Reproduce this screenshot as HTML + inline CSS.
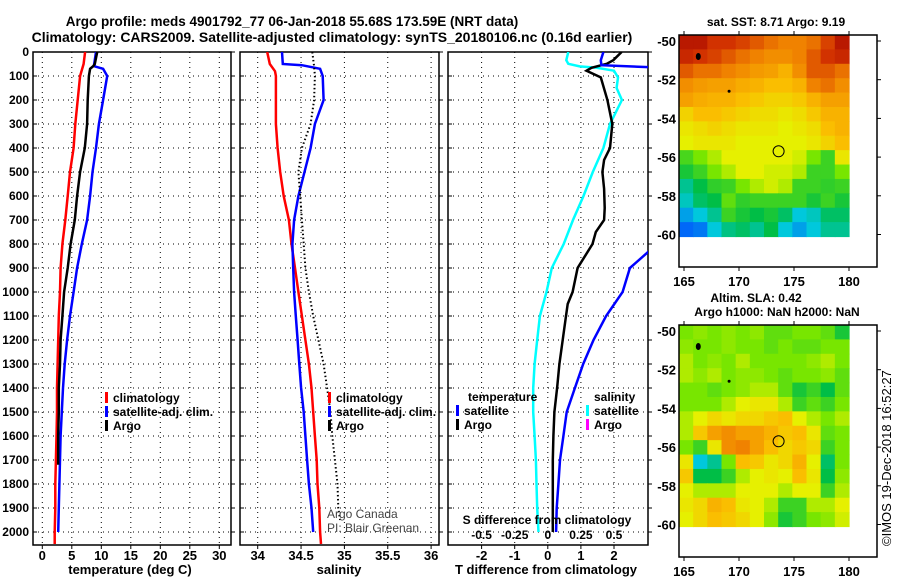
<!DOCTYPE html>
<html><head><meta charset="utf-8"><style>
html,body{margin:0;padding:0;background:#fff;}
svg{display:block;font-family:"Liberation Sans",sans-serif;}
</style></head><body>
<svg id="c" width="900" height="580" viewBox="0 0 900 580">
<text x="292" y="26" text-anchor="middle" font-size="13.5" font-weight="bold">Argo profile: meds 4901792_77 06-Jan-2018 55.68S 173.59E (NRT data)</text>
<text x="332" y="42" text-anchor="middle" font-size="14" font-weight="bold">Climatology: CARS2009. Satellite-adjusted climatology: synTS_20180106.nc (0.16d earlier)</text>
</svg>
<script>
// ---------- data ----------
const depthGrid = [0,50,100,200,300,400,500,600,700,800,900,1000,1100,1200,1300,1400,1500,1600,1700,1800,1900,2000,2050];
const tempClim = [7.25,7.0,6.4,6.0,5.6,5.3,4.7,4.3,3.9,3.4,3.1,3.0,2.8,2.7,2.6,2.5,2.5,2.4,2.3,2.2,2.2,2.1,2.1];
const tempArgoDepth = [0,50,60,70,100,200,300,400,500,600,700,800,900,1000,1100,1200,1300,1400,1500,1600,1700,1720];
const tempArgo = [9.3,8.9,8.6,8.1,7.9,7.7,7.6,7.2,6.4,5.9,5.5,4.8,4.3,3.7,3.4,3.1,3.0,2.8,2.8,2.7,2.7,2.7];
const tempSatDepth = [0,50,60,70,100,200,300,400,500,600,700,800,900,1000,1100,1200,1300,1400,1500,1600,1700,1800,1900,2000];
const tempSat = [9.1,8.8,8.9,10.3,11.0,10.3,9.6,9.1,8.5,8.1,7.6,6.7,5.9,5.3,4.7,4.2,3.8,3.5,3.3,3.1,3.0,2.9,2.8,2.7];
const salClimDepth = [0,50,80,100,200,300,400,500,600,700,800,900,1000,1100,1200,1300,1400,1500,1600,1700,1800,1900,2000,2050];
const salClim = [34.11,34.14,34.2,34.21,34.21,34.21,34.23,34.26,34.3,34.36,34.39,34.43,34.47,34.51,34.55,34.59,34.62,34.64,34.66,34.68,34.69,34.71,34.72,34.73];
const salSatDepth = [0,50,55,70,100,200,300,400,500,600,700,800,900,1000,1100,1200,1300,1400,1500,1600,1700,1800,1900,2000];
const salSat = [34.28,34.29,34.51,34.72,34.75,34.76,34.66,34.61,34.54,34.47,34.42,34.4,34.41,34.42,34.44,34.46,34.48,34.5,34.53,34.55,34.57,34.59,34.62,34.64];
const salArgoDepth = [0,60,100,200,300,400,500,600,700,800,900,1000,1100,1200,1300,1400,1500,1600,1700,1800,1900,1950];
const salArgo = [34.63,34.65,34.66,34.65,34.61,34.51,34.47,34.49,34.51,34.53,34.55,34.59,34.64,34.7,34.76,34.8,34.84,34.86,34.89,34.92,34.93,34.95];
const dTArgoDepth = [0,34,49,66,78,106,200,300,400,450,500,570,650,700,750,800,900,1000,1050,1100,1200,1300,1400,1500,1600,1700,1800,1900,2000];
const dTArgo = [2.23,1.98,1.78,1.32,1.17,1.6,1.8,1.95,1.88,1.7,1.65,1.7,1.72,1.7,1.45,1.35,0.9,0.75,0.6,0.55,0.45,0.35,0.28,0.2,0.17,0.15,0.15,0.15,0.15];
const dTSatDepth = [0,34,55,70,100,300,500,700,832,900,1000,1100,1200,1300,1400,1500,1600,1700,1800,1900,2000];
const dTSat = [1.68,1.6,1.62,4.2,4.6,4.0,3.8,3.7,3.04,2.48,2.26,1.76,1.38,1.07,0.82,0.57,0.47,0.37,0.32,0.27,0.25];
const dSSatDepth = [0,34,49,60,66,78,106,150,200,300,400,500,600,700,800,900,1000,1100,1200,1300,1400,1500,1600,1700,1800,1900,2000];
const dSSat = [0.155,0.14,0.155,0.24,0.37,0.5,0.53,0.52,0.56,0.47,0.42,0.34,0.27,0.19,0.12,0.03,-0.01,-0.06,-0.08,-0.1,-0.11,-0.11,-0.1,-0.09,-0.085,-0.08,-0.07];
const depthTicks = [0,100,200,300,400,500,600,700,800,900,1000,1100,1200,1300,1400,1500,1600,1700,1800,1900,2000];
const tempTicks = [0,5,10,15,20,25,30];
const salTicks = [34,34.5,35,35.5,36];
const dTTicks = [-2,-1,0,1,2];
const dSTicks = [-0.5,-0.25,0,0.25,0.5];
const sstGrid = [
[0.95,0.95,0.9,0.9,0.88,0.85,0.82,0.8,0.8,0.82,0.88,0.95],
[0.92,0.9,0.88,0.85,0.82,0.8,0.78,0.78,0.8,0.85,0.9,0.92],
[0.85,0.82,0.82,0.8,0.78,0.76,0.75,0.72,0.78,0.85,0.85,0.82],
[0.78,0.76,0.75,0.75,0.73,0.72,0.7,0.7,0.72,0.8,0.82,0.78],
[0.75,0.73,0.72,0.72,0.7,0.68,0.66,0.66,0.68,0.72,0.75,0.75],
[0.66,0.7,0.7,0.68,0.66,0.64,0.64,0.62,0.64,0.68,0.72,0.72],
[0.62,0.64,0.66,0.64,0.62,0.62,0.62,0.6,0.62,0.64,0.7,0.72],
[0.6,0.62,0.62,0.62,0.6,0.6,0.6,0.6,0.6,0.62,0.66,0.7],
[0.46,0.5,0.55,0.6,0.6,0.6,0.6,0.6,0.58,0.5,0.45,0.62],
[0.42,0.45,0.5,0.55,0.6,0.6,0.58,0.58,0.55,0.45,0.45,0.5],
[0.35,0.4,0.44,0.45,0.5,0.55,0.58,0.55,0.45,0.45,0.44,0.45],
[0.32,0.38,0.4,0.48,0.44,0.45,0.45,0.45,0.45,0.42,0.45,0.42],
[0.25,0.3,0.35,0.45,0.42,0.4,0.42,0.38,0.3,0.32,0.38,0.38],
[0.18,0.2,0.3,0.36,0.38,0.35,0.4,0.3,0.25,0.3,0.35,0.35]];
const slaGrid = [
[0.5,0.52,0.5,0.52,0.5,0.52,0.48,0.48,0.5,0.5,0.48,0.42],
[0.52,0.5,0.5,0.52,0.5,0.5,0.48,0.5,0.48,0.48,0.5,0.5],
[0.55,0.5,0.52,0.5,0.55,0.5,0.5,0.5,0.5,0.52,0.55,0.5],
[0.55,0.52,0.55,0.5,0.52,0.52,0.5,0.48,0.5,0.5,0.52,0.48],
[0.5,0.5,0.48,0.5,0.52,0.55,0.55,0.48,0.42,0.45,0.4,0.48],
[0.5,0.5,0.5,0.55,0.6,0.62,0.62,0.55,0.45,0.48,0.45,0.5],
[0.55,0.6,0.65,0.62,0.65,0.65,0.68,0.7,0.6,0.55,0.5,0.55],
[0.55,0.68,0.75,0.78,0.75,0.75,0.72,0.68,0.7,0.62,0.48,0.5],
[0.5,0.45,0.62,0.78,0.8,0.75,0.7,0.65,0.68,0.65,0.45,0.5],
[0.62,0.3,0.35,0.5,0.7,0.68,0.62,0.65,0.72,0.6,0.38,0.5],
[0.68,0.4,0.4,0.45,0.55,0.6,0.62,0.6,0.7,0.62,0.4,0.52],
[0.6,0.55,0.55,0.55,0.6,0.6,0.6,0.55,0.6,0.6,0.45,0.55],
[0.62,0.65,0.72,0.7,0.62,0.6,0.55,0.45,0.45,0.55,0.55,0.6],
[0.6,0.65,0.7,0.68,0.65,0.6,0.52,0.42,0.45,0.5,0.52,0.58]];
const lonTicks = [165,170,175,180];
const latTicks = [-50,-52,-54,-56,-58,-60];
const argoLon = 173.6, argoLat = -55.7;

// ---------- helpers ----------
const svg = document.getElementById('c');
const NS = 'http://www.w3.org/2000/svg';
function mk(tag, attrs, parent){const e=document.createElementNS(NS,tag);for(const k in attrs)e.setAttribute(k,attrs[k]);(parent||svg).appendChild(e);return e;}
function txt(x,y,s,anchor,size,weight,parent){const t=mk('text',{x:x,y:y,'text-anchor':anchor||'start','font-size':size||12,'font-weight':weight||'bold'},parent);t.textContent=s;return t;}
const TOP=52, BOT=545;
const yD = d => 52 + d*0.24;

function panel(name,x0,x1,xScale,xTicks,xTickLabels,withY){
  const g=mk('g',{});
  
  
  const cid='clip-'+name;
  const cp=mk('clipPath',{id:cid},g); mk('rect',{x:x0,y:TOP,width:x1-x0,height:BOT-TOP},cp);
  depthTicks.forEach(d=>{
    const l=mk('line',{x1:x0,x2:x1,y1:yD(d),y2:yD(d),stroke:'#000','stroke-width':1,'stroke-dasharray':'1,4'},g);
    
    
    mk('line',{x1:x0,x2:x0+4,y1:yD(d),y2:yD(d),stroke:'#000'},g);
    mk('line',{x1:x1,x2:x1+4,y1:yD(d),y2:yD(d),stroke:'#000'},g);
    if(withY){const t=txt(x0-4,yD(d)+4,String(d),'end',12,'bold',g);
      
      }
  });
  xTicks.forEach((v,i)=>{
    const x=xScale(v);
    mk('line',{x1:x,x2:x,y1:TOP,y2:BOT,stroke:'#000','stroke-dasharray':'1,4'},g);
    mk('line',{x1:x,x2:x,y1:BOT,y2:BOT+4,stroke:'#000'},g);
    const t=txt(x,560,xTickLabels[i],'middle',13,'bold',g);
    
    
  });
  mk('rect',{x:x0,y:TOP,width:x1-x0,height:BOT-TOP,fill:'none',stroke:'#000','stroke-width':1.5},g);
  return {g:g,clip:'url(#'+cid+')'};
}
function series(p,name,xs,ds,xScale,color,w,dash){
  const pts=xs.map((v,i)=>xScale(v).toFixed(1)+','+yD(ds[i]).toFixed(1)).join(' ');
  const l=mk('polyline',{points:pts,fill:'none',stroke:color,'stroke-width':w,'clip-path':p.clip},p.g);
  if(dash)l.setAttribute('stroke-dasharray',dash);
  
  
}
function legend(x,y,color,label,parent){
  mk('rect',{x:x,y:y-10,width:3,height:11,fill:color},parent);
  const t=txt(x+8,y,label,'start',12,'bold',parent);
  
  
}

// ---------- panel 1 temperature ----------
const xT = v => 42.3 + v*5.9;
const p1=panel('temperature-panel',33,231,xT,tempTicks,tempTicks.map(String),true);
series(p1,'temp-climatology-line',tempClim,depthGrid,xT,'#f00',2.5);
series(p1,'temp-satellite-line',tempSat,tempSatDepth,xT,'#00f',2.5);
series(p1,'temp-argo-line',tempArgo,tempArgoDepth,xT,'#000',2.5);
legend(105,402,'#f00','climatology',p1.g);
legend(105,416,'#00f','satellite-adj. clim.',p1.g);
legend(105,430,'#000','Argo',p1.g);
let at=txt(130,574,'temperature (deg C)','middle',13,'bold');  

// ---------- panel 2 salinity ----------
const xS = v => 257.7 + (v-34)*86.7;
const p2=panel('salinity-panel',240,439,xS,salTicks,salTicks.map(String),false);
series(p2,'sal-climatology-line',salClim,salClimDepth,xS,'#f00',2.5);
series(p2,'sal-satellite-line',salSat,salSatDepth,xS,'#00f',2.5);
series(p2,'sal-argo-line',salArgo,salArgoDepth,xS,'#000',2,'1.5,2.5');
legend(328,402,'#f00','climatology',p2.g);
legend(328,416,'#00f','satellite-adj. clim.',p2.g);
legend(328,430,'#000','Argo',p2.g);
let c1=txt(327,518,'Argo Canada','start',12,'normal',p2.g); c1.setAttribute('fill','#444');
 
let c2=txt(327,532,'PI: Blair Greenan','start',12,'normal',p2.g); c2.setAttribute('fill','#444');
 
at=txt(339,574,'salinity','middle',13,'bold');  

// ---------- panel 3 differences ----------
const xDT = v => 547.8 + v*33.1;
const xDS = v => 547.8 + v*4*33.1;
const p3=panel('difference-panel',448,648,xDT,dTTicks,dTTicks.map(String),false);
series(p3,'dS-satellite-line',dSSat,dSSatDepth,xDS,'#0ff',2.5);
series(p3,'dT-argo-line',dTArgo,dTArgoDepth,xDT,'#000',2.5);
series(p3,'dT-satellite-line',dTSat,dTSatDepth,xDT,'#00f',2.5);
let lt=txt(468,401,'temperature','start',12,'bold',p3.g);  
legend(456,415,'#00f','satellite',p3.g);
legend(456,429,'#000','Argo',p3.g);
lt=txt(594,401,'salinity','start',12,'bold',p3.g);  
legend(586,415,'#0ff','satellite',p3.g);
legend(586,429,'#f0f','Argo',p3.g);
let st=txt(547,524,'S difference from climatology','middle',12,'bold',p3.g);  
dSTicks.forEach(v=>{const t=txt(xDS(v),539,String(v),'middle',12,'bold',p3.g);
  
  });
at=txt(546,574,'T difference from climatology','middle',13,'bold');  

// ---------- maps ----------
const cmapStops=[[0,0,0,180],[0.15,0,80,255],[0.3,0,200,220],[0.4,0,190,70],[0.5,120,230,0],[0.6,230,240,0],[0.7,250,190,0],[0.8,240,130,0],[0.9,210,50,0],[1,160,0,0]];
function cmap(v){
  v=Math.max(0,Math.min(1,v));
  for(let i=1;i<cmapStops.length;i++){
    const a=cmapStops[i-1],b=cmapStops[i];
    if(v<=b[0]){const t=(v-a[0])/(b[0]-a[0]);
      return 'rgb('+[1,2,3].map(k=>Math.round(a[k]+(b[k]-a[k])*t)).join(',')+')';}
  }
  return 'rgb(160,0,0)';
}
function mapPanel(name,top,grid,titleLines){
  const g=mk('g',{});
  
  
  const lon = v => 684 + (v-165)*11;
  const lat = v => top+6 + (-50-v)*19.35;
  const x0=679,x1=877,imgR=lon(180),imgB=lat(-60)+2,bot=top+232;
  const rows=grid.length, cols=grid[0].length;
  const cw=(imgR-x0)/cols, ch=(imgB-top)/rows;
  grid.forEach((row,i)=>row.forEach((v,j)=>{
    const c=mk('rect',{x:(x0+j*cw).toFixed(2),y:(top+i*ch).toFixed(2),width:(cw+0.6).toFixed(2),height:(ch+0.6).toFixed(2),fill:cmap(v)},g);
    
    
  }));
  mk('rect',{x:x0,y:top,width:x1-x0,height:bot-top,fill:'none',stroke:'#000','stroke-width':1.5},g);
  lonTicks.forEach(v=>{mk('line',{x1:lon(v),x2:lon(v),y1:bot,y2:bot+4,stroke:'#000'},g);mk('line',{x1:lon(v),x2:lon(v),y1:top,y2:top-4,stroke:'#000'},g);
    const t=txt(lon(v),bot+19,String(v),'middle',13,'bold',g);
    
    });
  latTicks.forEach(v=>{mk('line',{x1:x1,x2:x1+4,y1:lat(v),y2:lat(v),stroke:'#000'},g);
    const t=txt(676,lat(v)+5,String(v),'end',13,'bold',g);
    
    });
  mk('ellipse',{cx:lon(166.3),cy:lat(-50.8),rx:2.5,ry:3.5,fill:'#000'},g);
  mk('circle',{cx:lon(169.1),cy:lat(-52.6),r:1.5,fill:'#000'},g);
  const m=mk('circle',{cx:lon(argoLon),cy:lat(argoLat),r:5.5,fill:'none',stroke:'#000','stroke-width':1},g);
  
  
  titleLines.forEach((s,i)=>{const t=txt(s[1],s[2],s[0],'middle',12,'bold',g);
    
    });
}
mapPanel('sst-map',35,sstGrid,[['sat. SST: 8.71 Argo: 9.19',776,26]]);
mapPanel('sla-map',325,slaGrid,[['Altim. SLA: 0.42',756,302],['Argo h1000: NaN h2000: NaN',777,316]]);
const cr=txt(0,0,'\u00a9IMOS 19-Dec-2018 16:52:27','start',13,'normal');
cr.setAttribute('transform','translate(891,546) rotate(-90)');


</script>
</body></html>
